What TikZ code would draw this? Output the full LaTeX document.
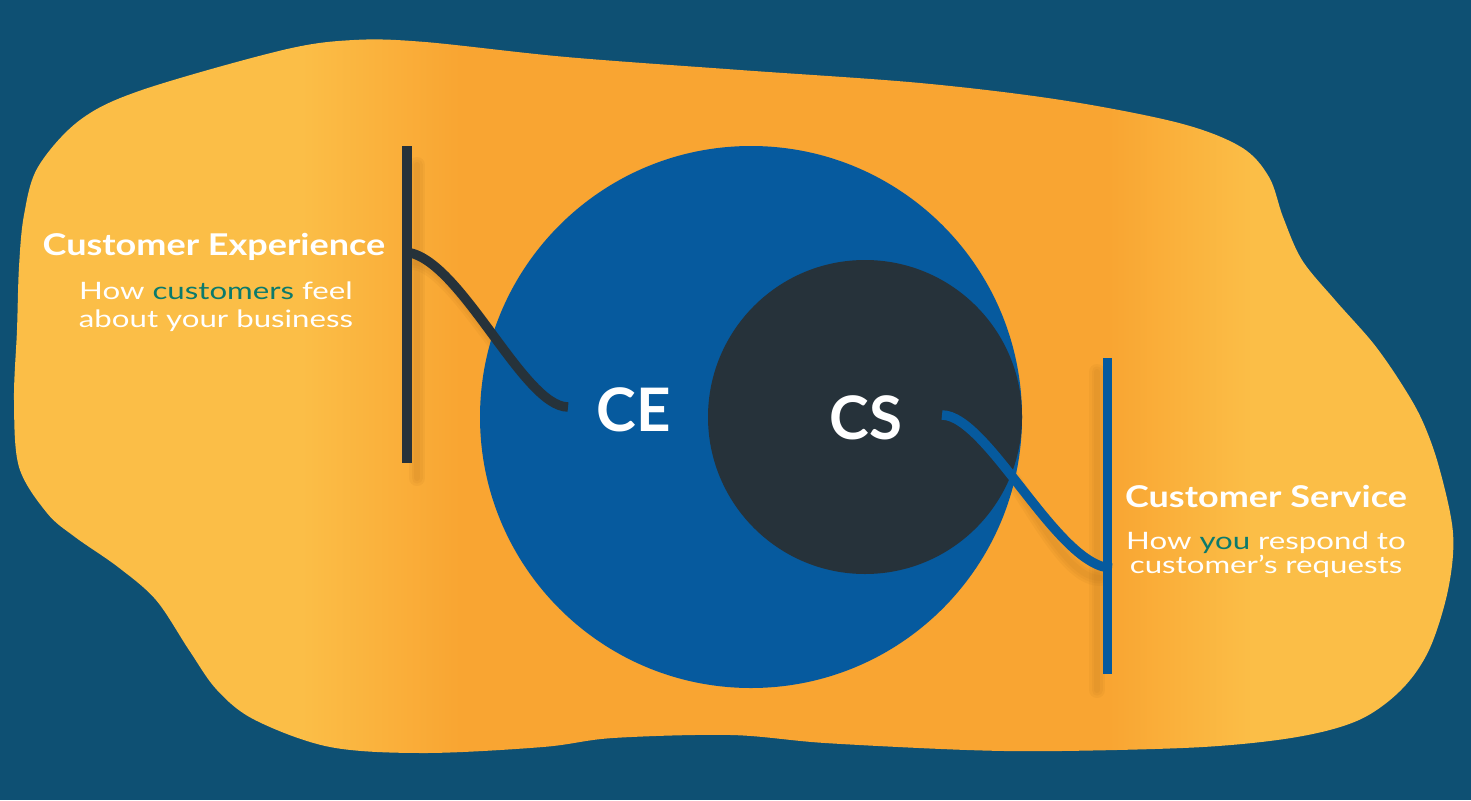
\documentclass[tikz,border=0pt]{standalone}
\usepackage{fontspec}
\setmainfont{Lato}
\newfontfamily\lightfont{Lato}[FakeStretch=1.3]
\newfontfamily\titlefont{Lato}[FakeStretch=1.2]
\definecolor{bgteal}{HTML}{0E5073}
\definecolor{blobyel}{HTML}{FBBE47}
\definecolor{bloborg}{HTML}{F9A532}
\definecolor{cblue}{HTML}{065A9E}
\definecolor{cdark}{HTML}{26323A}
\definecolor{tealtxt}{HTML}{0B7A6C}
\definecolor{shadowc}{HTML}{B9741E}
\pgfdeclarehorizontalshading{blobshade}{100bp}{color(0bp)=(blobyel); color(35bp)=(blobyel); color(40.5bp)=(bloborg); color(63bp)=(bloborg); color(68bp)=(blobyel); color(100bp)=(blobyel)}
\tikzset{
  titletxt/.style={text=white, font=\titlefont\bfseries\fontsize{30}{34}\selectfont, anchor=base, inner sep=0pt},
  subtxt/.style={text=white, font=\lightfont\fontsize{24}{28}\selectfont, anchor=base, inner sep=0pt},
  bigtxt/.style={text=white, font=\bfseries\fontsize{60}{66}\selectfont, anchor=base, inner sep=0pt},
  darkline/.style={draw=cdark, line width=9.5pt, line cap=butt},
  blueline/.style={draw=cblue, line width=9.5pt, line cap=butt},
  shadowline/.style={draw=shadowc, line cap=round, opacity=0.10},
}
\begin{document}
\begin{tikzpicture}[x=1pt,y=-1pt]
\useasboundingbox (0,0) rectangle (1471,800);
\fill[bgteal] (0,0) rectangle (1471,800);
% blob
\shade[shading=blobshade] plot[smooth cycle, tension=0.55] coordinates {
(354,40) (425,42) (566,57) (740,70) (920,83) (1061,100) (1179,123) (1241,147) (1269,177) (1283,217) (1302,260) (1335,300) (1373,343) (1401,383) (1422,420) (1439,467) (1453,533) (1448,590) (1429,650) (1401,690) (1359,720) (1297,737) (1203,747) (1061,751) (967,750) (825,743) (731,735) (613,738) (543,747) (425,753) (330,747) (255,720) (217,690) (189,650) (156,600) (118,567) (75,537) (47,513) (19,467) (14,400) (17,330) (19,267) (24,215) (38,167) (80,120) (142,90) (283,50)};
% shadows (left)
\foreach \w in {16,11,6}{
  \draw[shadowline, line width=\w pt] (417,165) -- (417,478);
  \draw[shadowline, line width=\w pt] (412,262) .. controls (458,262) and (528,418) .. (575,418);
}
% shadows (right)
\foreach \w in {16,11,6}{
  \draw[shadowline, line width=\w pt] (1097,372) -- (1097,690);
  \draw[shadowline, line width=\w pt] (1010,475) .. controls (1040,520) and (1070,578) .. (1100,578);
}
% circles
\fill[cblue] (751,417) circle[radius=271];
\fill[cdark] (865,417) circle[radius=157];
% coordinates
\coordinate (lbtop) at (407,146);
\coordinate (lbbot) at (407,463);
\coordinate (lbjoin) at (403,252);
\coordinate (ceend) at (568,407);
\coordinate (rbtop) at (1107.5,358);
\coordinate (rbbot) at (1107.5,674);
\coordinate (rbjoin) at (1112,568);
\coordinate (csend) at (942,415);
% labels
\node[bigtxt] (ce) at (634,431) {CE};
\node[bigtxt] (cs) at (866,439) {CS};
% connectors
\draw[darkline] (lbtop) -- (lbbot);
\draw[darkline] (lbjoin) .. controls (458,252) and (522,407) .. (ceend);
\draw[blueline] (rbtop) -- (rbbot);
\draw[blueline] (csend) .. controls (988,415) and (1058,568) .. (rbjoin);
% texts
\node[titletxt] (cet) at (214,255) {Customer Experience};
\node[subtxt] (ces1) at (216,299) {How \textcolor{tealtxt}{customers} feel};
\node[subtxt] (ces2) at (216,327) {about your business};
\node[titletxt] (cst) at (1266,507) {Customer Service};
\node[subtxt] (css1) at (1266,549) {How \textcolor{tealtxt}{you} respond to};
\node[subtxt] (css2) at (1266,573) {customer’s requests};
\end{tikzpicture}
\end{document}
